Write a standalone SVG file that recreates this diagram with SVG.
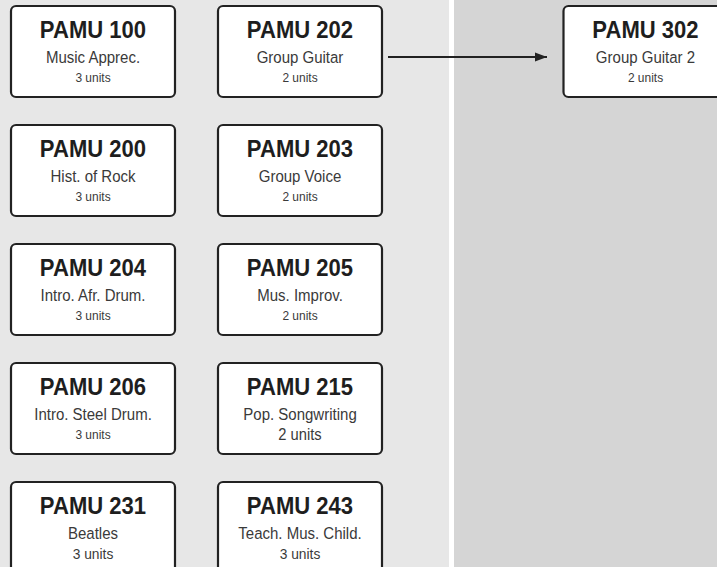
<svg xmlns="http://www.w3.org/2000/svg" width="717" height="567" viewBox="0 0 717 567">
<defs>
<style>
.box{fill:#fff;stroke:#222;stroke-width:2.2}
text{font-family:"Liberation Sans",Arial,sans-serif;text-anchor:middle;fill:#3a3a3a}
.t{font-weight:bold;font-size:24px;fill:#1e1e1e;transform:scale(0.92,1)}
.s{font-size:16.5px;transform:scale(0.91,1)}
.u{font-size:13px;transform:scale(0.92,1)}
.ub{font-size:16px;transform:scale(0.92,1)}
.um{font-size:15px;transform:scale(0.92,1)}
.edge{stroke:#222;stroke-width:2.2;fill:none}
</style>
<marker id="arr" markerWidth="12" markerHeight="10" refX="12" refY="5" orient="auto" markerUnits="userSpaceOnUse">
<path d="M0,0.5 L12,5 L0,9.5 Z" fill="#222"/>
</marker>
</defs>
<rect x="0" y="0" width="717" height="567" fill="#fff"/>
<rect x="0" y="0" width="449" height="567" fill="#e7e7e7"/>
<rect x="454" y="0" width="263" height="567" fill="#d5d5d5"/>

<g id="connectors">
<line class="edge" x1="388" y1="57" x2="547" y2="57" marker-end="url(#arr)"/>
</g>

<g id="n100"><rect class="box" x="11" y="6" width="164" height="91" rx="5"/>
<g transform="translate(93,6)"><text class="t" x="0" y="32.5">PAMU 100</text><text class="s" x="0" y="57">Music Apprec.</text><text class="u" x="0" y="76">3 units</text></g></g>
<g id="n202"><rect class="box" x="218" y="6" width="164" height="91" rx="5"/>
<g transform="translate(300,6)"><text class="t" x="0" y="32.5">PAMU 202</text><text class="s" x="0" y="57">Group Guitar</text><text class="u" x="0" y="76">2 units</text></g></g>
<g id="n302"><rect class="box" x="563.5" y="6" width="164" height="91" rx="5"/>
<g transform="translate(645.5,6)"><text class="t" x="0" y="32.5">PAMU 302</text><text class="s" x="0" y="57">Group Guitar 2</text><text class="u" x="0" y="76">2 units</text></g></g>

<g id="n200"><rect class="box" x="11" y="125" width="164" height="91" rx="5"/>
<g transform="translate(93,125)"><text class="t" x="0" y="32.5">PAMU 200</text><text class="s" x="0" y="57">Hist. of Rock</text><text class="u" x="0" y="76">3 units</text></g></g>
<g id="n203"><rect class="box" x="218" y="125" width="164" height="91" rx="5"/>
<g transform="translate(300,125)"><text class="t" x="0" y="32.5">PAMU 203</text><text class="s" x="0" y="57">Group Voice</text><text class="u" x="0" y="76">2 units</text></g></g>

<g id="n204"><rect class="box" x="11" y="244" width="164" height="91" rx="5"/>
<g transform="translate(93,244)"><text class="t" x="0" y="32.5">PAMU 204</text><text class="s" x="0" y="57">Intro. Afr. Drum.</text><text class="u" x="0" y="76">3 units</text></g></g>
<g id="n205"><rect class="box" x="218" y="244" width="164" height="91" rx="5"/>
<g transform="translate(300,244)"><text class="t" x="0" y="32.5">PAMU 205</text><text class="s" x="0" y="57">Mus. Improv.</text><text class="u" x="0" y="76">2 units</text></g></g>

<g id="n206"><rect class="box" x="11" y="363" width="164" height="91" rx="5"/>
<g transform="translate(93,363)"><text class="t" x="0" y="32.5">PAMU 206</text><text class="s" x="0" y="57">Intro. Steel Drum.</text><text class="u" x="0" y="76">3 units</text></g></g>
<g id="n215"><rect class="box" x="218" y="363" width="164" height="91" rx="5"/>
<g transform="translate(300,363)"><text class="t" x="0" y="32.5">PAMU 215</text><text class="s" x="0" y="57">Pop. Songwriting</text><text class="ub" x="0" y="77.5">2 units</text></g></g>

<g id="n231"><rect class="box" x="11" y="482" width="164" height="91" rx="5"/>
<g transform="translate(93,482)"><text class="t" x="0" y="32.5">PAMU 231</text><text class="s" x="0" y="57">Beatles</text><text class="um" x="0" y="77">3 units</text></g></g>
<g id="n243"><rect class="box" x="218" y="482" width="164" height="91" rx="5"/>
<g transform="translate(300,482)"><text class="t" x="0" y="32.5">PAMU 243</text><text class="s" x="0" y="57">Teach. Mus. Child.</text><text class="um" x="0" y="77">3 units</text></g></g>
</svg>
